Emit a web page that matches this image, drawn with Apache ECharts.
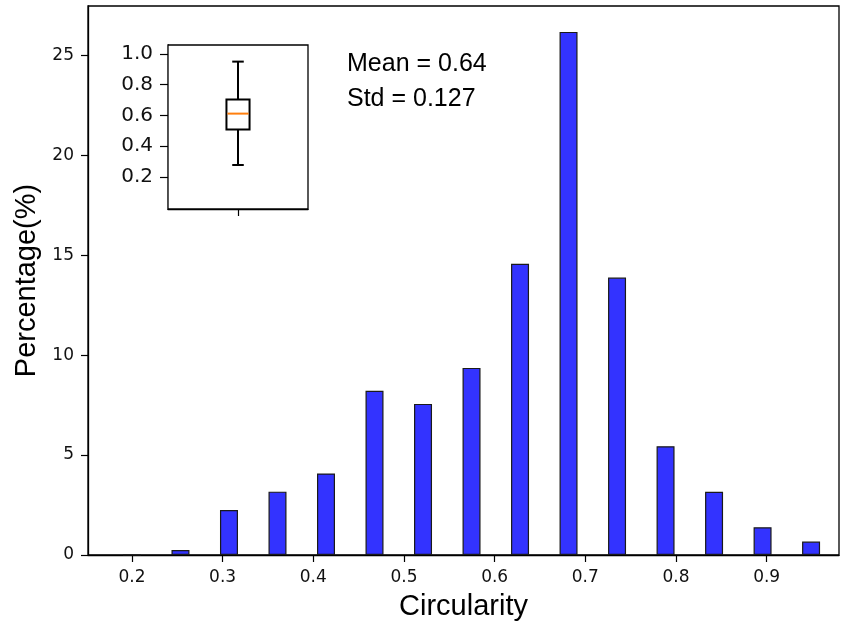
<!DOCTYPE html>
<html>
<head>
<meta charset="utf-8">
<script src="https://cdn.jsdelivr.net/npm/echarts@6/dist/echarts.min.js"></script>
<style>
  html, body { margin: 0; padding: 0; background: #fff; }
  #chart { width: 847px; height: 624px; }
</style>
</head>
<body>
<div id="chart"></div>
<script>
// ---- data ----
const binCenters = [0.2, 0.2535, 0.307, 0.3605, 0.414, 0.4675, 0.521, 0.5745, 0.628, 0.6815, 0.735, 0.7885, 0.842, 0.8955, 0.949];
const percentages = [0, 0.25, 2.25, 3.17, 4.08, 8.22, 7.56, 9.36, 14.57, 26.17, 13.88, 5.44, 3.16, 1.39, 0.67];
const xTicks = [0.2, 0.3, 0.4, 0.5, 0.6, 0.7, 0.8, 0.9];
const yTicks = [0, 5, 10, 15, 20, 25];
const insetTicks = [0.2, 0.4, 0.6, 0.8, 1.0];
// box plot: [lower whisker, Q1, median, Q3, upper whisker]
const boxStats = [0.278, 0.508, 0.612, 0.703, 0.95];
const statLines = ['Mean = 0.64', 'Std = 0.127'];

const chart = echarts.init(document.getElementById('chart'), null, { renderer: 'canvas' });

const tickFont = 'DejaVu Sans';
const textFont = 'Liberation Sans, Arial, sans-serif';

const option = {
  animation: false,
  backgroundColor: '#fff',
  grid: [
    { left: 88, right: 8, top: 6, bottom: 69, show: true, borderColor: '#000', borderWidth: 1.3, backgroundColor: 'transparent', containLabel: false, outerBoundsMode: 'none' },
    { left: 168, top: 45, width: 140, height: 164, show: true, borderColor: '#000', borderWidth: 1.3, backgroundColor: '#fff', containLabel: false, outerBoundsMode: 'none', z: 5 }
  ],
  xAxis: [
    {
      gridIndex: 0, type: 'value', min: 0.1515, max: 0.9798,
      splitLine: { show: false },
      axisLine: { show: true, onZero: false, lineStyle: { color: '#000', width: 1.3 } },
      axisTick: { show: true, length: 7, lineStyle: { color: '#000', width: 1.2 }, customValues: xTicks },
      axisLabel: { show: true, margin: 14, fontSize: 17, fontFamily: tickFont, color: '#111', customValues: xTicks,
        formatter: v => Number(v).toFixed(1) },
      name: 'Circularity', nameLocation: 'middle', nameGap: 37,
      nameTextStyle: { fontSize: 29, fontFamily: textFont, color: '#000' }
    },
    {
      gridIndex: 1, type: 'value', min: 0.5, max: 1.5,
      splitLine: { show: false },
      axisLine: { show: true, onZero: false, lineStyle: { color: '#000', width: 1.3 } },
      axisTick: { show: true, length: 7, lineStyle: { color: '#000', width: 1.2 }, customValues: [1] },
      axisLabel: { show: false }
    }
  ],
  yAxis: [
    {
      gridIndex: 0, type: 'value', min: 0, max: 27.465,
      splitLine: { show: false },
      axisLine: { show: true, onZero: false, lineStyle: { color: '#000', width: 1.3 } },
      axisTick: { show: true, length: 7, lineStyle: { color: '#000', width: 1.2 }, customValues: yTicks },
      axisLabel: { show: true, margin: 14, fontSize: 17, fontFamily: tickFont, color: '#111', customValues: yTicks },
      name: 'Percentage(%)', nameLocation: 'middle', nameGap: 37,
      nameTextStyle: { fontSize: 29, fontFamily: textFont, color: '#000' }
    },
    {
      gridIndex: 1, type: 'value', min: -0.008, max: 1.058,
      splitLine: { show: false },
      axisLine: { show: true, onZero: false, lineStyle: { color: '#000', width: 1.3 } },
      axisTick: { show: true, length: 8, lineStyle: { color: '#000', width: 1.2 }, customValues: insetTicks },
      axisLabel: { show: true, margin: 15, fontSize: 20, fontFamily: tickFont, color: '#111', customValues: insetTicks,
        formatter: v => Number(v).toFixed(1) }
    }
  ],
  series: [
    {
      type: 'bar',
      xAxisIndex: 0, yAxisIndex: 0,
      data: binCenters.map((c, i) => [c, percentages[i]]),
      barWidth: 18,
      itemStyle: { color: '#3333ff', borderColor: '#1a1a1a', borderWidth: 1.2 },
      z: 2
    },
    {
      type: 'custom',
      xAxisIndex: 1, yAxisIndex: 1,
      data: [[1].concat(boxStats)],
      z: 10,
      renderItem: function (params, api) {
        const x = api.value(0);
        const boxHalf = api.size([0.165, 0])[0] / 2;
        const capHalf = boxHalf / 2;
        const pMin = api.coord([x, api.value(1)]);
        const pQ1 = api.coord([x, api.value(2)]);
        const pMed = api.coord([x, api.value(3)]);
        const pQ3 = api.coord([x, api.value(4)]);
        const pMax = api.coord([x, api.value(5)]);
        const black = { stroke: '#000', lineWidth: 2, fill: null };
        return {
          type: 'group',
          children: [
            { type: 'line', shape: { x1: pMin[0], y1: pMin[1], x2: pQ1[0], y2: pQ1[1] }, style: black },
            { type: 'line', shape: { x1: pQ3[0], y1: pQ3[1], x2: pMax[0], y2: pMax[1] }, style: black },
            { type: 'line', shape: { x1: pMin[0] - capHalf, y1: pMin[1], x2: pMin[0] + capHalf, y2: pMin[1] }, style: black },
            { type: 'line', shape: { x1: pMax[0] - capHalf, y1: pMax[1], x2: pMax[0] + capHalf, y2: pMax[1] }, style: black },
            { type: 'rect', shape: { x: pQ3[0] - boxHalf, y: pQ3[1], width: boxHalf * 2, height: pQ1[1] - pQ3[1] }, style: { stroke: '#000', lineWidth: 2, fill: 'none' } },
            { type: 'line', shape: { x1: pMed[0] - boxHalf + 1, y1: pMed[1], x2: pMed[0] + boxHalf - 1, y2: pMed[1] }, style: { stroke: '#ff7f0e', lineWidth: 2 } }
          ]
        };
      }
    }
  ],
  graphic: [
    { type: 'text', left: 347, top: 52, style: { text: statLines[0], font: '25px ' + textFont, fill: '#000' }, z: 20 },
    { type: 'text', left: 347, top: 87, style: { text: statLines[1], font: '25px ' + textFont, fill: '#000' }, z: 20 }
  ]
};

chart.setOption(option);
</script>
</body>
</html>
